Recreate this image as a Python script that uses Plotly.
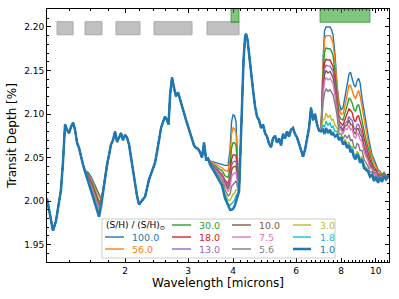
import plotly.graph_objects as go

# ---------------- data ----------------
ABUNDANCES = ["100.0", "56.0", "30.0", "18.0", "13.0", "10.0", "7.5", "5.6", "3.0", "1.8", "1.0"]
COLORS = ["#1f77b4", "#ff7f0e", "#2ca02c", "#d62728", "#9467bd", "#8c564b",
          "#e377c2", "#7f7f7f", "#bcbd22", "#17becf", "#1f77b4"]

# part of the spectrum shared by every model (microns, transit depth %)
WL_COMMON_1 = [1.212, 1.236, 1.260, 1.284, 1.309, 1.326, 1.343, 1.361, 1.378, 1.396,
               1.414, 1.433, 1.451, 1.470, 1.489, 1.508, 1.527]
DEPTH_COMMON_1 = [2.003, 1.985, 1.966, 1.977, 1.996, 2.013, 2.044, 2.088, 2.082, 2.078,
                  2.085, 2.090, 2.082, 2.067, 2.061, 2.050, 2.042]

# 1.55-1.72 micron window, where the models separate
WL_H = [1.547, 1.577, 1.608, 1.639, 1.671, 1.693, 1.715]
DEPTH_H = {
    "100.0": [2.035, 2.033, 2.028, 2.020, 2.013, 2.007, 2.003],
    "56.0": [2.035, 2.031, 2.026, 2.017, 2.010, 2.004, 2.001],
    "30.0": [2.035, 2.030, 2.023, 2.015, 2.007, 2.000, 2.000],
    "18.0": [2.034, 2.029, 2.021, 2.012, 2.004, 1.997, 1.999],
    "13.0": [2.034, 2.028, 2.020, 2.011, 2.002, 1.995, 1.998],
    "10.0": [2.034, 2.027, 2.019, 2.010, 2.001, 1.993, 1.998],
    "7.5": [2.034, 2.027, 2.018, 2.009, 1.999, 1.992, 1.997],
    "5.6": [2.034, 2.026, 2.016, 2.007, 1.997, 1.989, 1.996],
    "3.0": [2.034, 2.025, 2.014, 2.005, 1.995, 1.986, 1.995],
    "1.8": [2.034, 2.024, 2.013, 2.003, 1.993, 1.984, 1.994],
    "1.0": [2.034, 2.023, 2.012, 2.002, 1.991, 1.982, 1.994],
}

WL_COMMON_2 = [1.737, 1.759, 1.782, 1.805, 1.828, 1.852, 1.876, 1.900, 1.924, 1.949,
               1.974, 2.000, 2.026, 2.052, 2.079, 2.106, 2.133, 2.160, 2.188, 2.216,
               2.245, 2.274, 2.304, 2.333, 2.363, 2.394, 2.425, 2.457, 2.488, 2.520,
               2.553, 2.586, 2.619, 2.645, 2.671, 2.704, 2.739, 2.774, 2.810, 2.847,
               2.884, 2.921, 2.959, 2.997, 3.036, 3.075, 3.114, 3.155, 3.195, 3.237,
               3.278, 3.321, 3.364, 3.407]
DEPTH_COMMON_2 = [2.011, 2.027, 2.042, 2.053, 2.065, 2.070, 2.080, 2.068, 2.073, 2.078,
                  2.070, 2.076, 2.073, 2.065, 2.050, 2.034, 2.019, 2.006, 1.996, 1.999,
                  2.003, 2.005, 2.015, 2.025, 2.031, 2.038, 2.044, 2.057, 2.070, 2.084,
                  2.091, 2.097, 2.093, 2.088, 2.122, 2.142, 2.130, 2.120, 2.125, 2.116,
                  2.107, 2.101, 2.093, 2.085, 2.077, 2.070, 2.064, 2.061, 2.060, 2.056,
                  2.050, 2.067, 2.048, 2.049]

# 3.4-4.1 micron SO2 band
WL_4 = [3.451, 3.518, 3.587, 3.656, 3.727, 3.800, 3.874, 3.924, 3.962, 4.000, 4.039, 4.078, 4.117]
DEPTH_4 = {
    "100.0": [2.046, 2.045, 2.044, 2.043, 2.042, 2.041, 2.041, 2.059, 2.091, 2.099, 2.098, 2.091, 2.048],
    "56.0": [2.046, 2.044, 2.042, 2.040, 2.038, 2.035, 2.034, 2.049, 2.077, 2.084, 2.083, 2.078, 2.042],
    "30.0": [2.045, 2.042, 2.040, 2.037, 2.035, 2.029, 2.027, 2.038, 2.061, 2.067, 2.067, 2.064, 2.035],
    "18.0": [2.044, 2.041, 2.038, 2.035, 2.031, 2.024, 2.020, 2.029, 2.048, 2.053, 2.053, 2.052, 2.029],
    "13.0": [2.044, 2.041, 2.037, 2.034, 2.030, 2.022, 2.017, 2.025, 2.041, 2.045, 2.046, 2.045, 2.026],
    "10.0": [2.044, 2.040, 2.036, 2.033, 2.028, 2.020, 2.014, 2.021, 2.035, 2.039, 2.040, 2.040, 2.024],
    "7.5": [2.043, 2.039, 2.035, 2.031, 2.027, 2.017, 2.011, 2.016, 2.028, 2.031, 2.032, 2.033, 2.021],
    "5.6": [2.043, 2.038, 2.034, 2.029, 2.024, 2.013, 2.006, 2.008, 2.017, 2.019, 2.021, 2.023, 2.016],
    "3.0": [2.042, 2.037, 2.032, 2.027, 2.021, 2.009, 2.001, 2.001, 2.005, 2.008, 2.009, 2.013, 2.012],
    "1.8": [2.042, 2.037, 2.031, 2.026, 2.019, 2.006, 1.997, 1.995, 1.997, 1.999, 2.001, 2.006, 2.008],
    "1.0": [2.042, 2.036, 2.030, 2.025, 2.018, 2.003, 1.994, 1.990, 1.990, 1.991, 1.994, 1.999, 2.005],
}

WL_COMMON_3 = [4.157, 4.197, 4.238, 4.279, 4.320, 4.348, 4.390, 4.432, 4.489, 4.547,
               4.606, 4.666, 4.726, 4.787, 4.849, 4.912, 4.975, 5.039, 5.104, 5.170,
               5.237, 5.305, 5.373, 5.443, 5.513, 5.584, 5.656, 5.729, 5.803, 5.878,
               5.954, 6.031, 6.109, 6.188, 6.268, 6.349, 6.431, 6.514, 6.598, 6.683,
               6.769, 6.857, 6.946]
DEPTH_COMMON_3 = [2.011, 2.059, 2.116, 2.162, 2.188, 2.192, 2.185, 2.168, 2.148, 2.128,
                  2.109, 2.097, 2.093, 2.084, 2.088, 2.078, 2.074, 2.066, 2.062, 2.072,
                  2.075, 2.067, 2.072, 2.064, 2.077, 2.072, 2.080, 2.074, 2.082, 2.084,
                  2.077, 2.073, 2.066, 2.059, 2.051, 2.059, 2.070, 2.084, 2.107, 2.093,
                  2.100, 2.088, 2.081]

# 7-11 micron SO2 bands
WL_S = [7.036, 7.127, 7.196, 7.266, 7.359, 7.454, 7.526, 7.599, 7.697, 7.796,
        7.897, 7.999, 8.102, 8.207, 8.313, 8.420, 8.502, 8.584, 8.695, 8.779,
        8.864, 8.950, 9.036, 9.153, 9.271, 9.391, 9.512, 9.635, 9.760, 9.886,
        10.013, 10.143, 10.274, 10.407, 10.541, 10.677, 10.884]
DEPTH_S = {
    "100.0": [2.080, 2.162, 2.196, 2.200, 2.200, 2.200, 2.197, 2.191, 2.168, 2.133,
              2.113, 2.105, 2.107, 2.118, 2.133, 2.146, 2.148, 2.141, 2.133, 2.131,
              2.138, 2.141, 2.136, 2.118, 2.102, 2.088, 2.076, 2.064, 2.053, 2.048,
              2.041, 2.036, 2.034, 2.030, 2.033, 2.029, 2.031],
    "56.0": [2.080, 2.155, 2.186, 2.190, 2.190, 2.190, 2.187, 2.181, 2.160, 2.129,
             2.106, 2.100, 2.100, 2.110, 2.122, 2.133, 2.133, 2.128, 2.120, 2.118,
             2.124, 2.127, 2.121, 2.107, 2.092, 2.079, 2.069, 2.058, 2.050, 2.044,
             2.039, 2.034, 2.033, 2.029, 2.032, 2.028, 2.031],
    "30.0": [2.080, 2.145, 2.171, 2.176, 2.175, 2.175, 2.172, 2.167, 2.148, 2.121,
             2.098, 2.094, 2.093, 2.101, 2.109, 2.118, 2.117, 2.113, 2.105, 2.103,
             2.109, 2.111, 2.104, 2.094, 2.081, 2.070, 2.062, 2.051, 2.045, 2.039,
             2.036, 2.031, 2.031, 2.028, 2.032, 2.028, 2.031],
    "18.0": [2.080, 2.137, 2.159, 2.163, 2.162, 2.162, 2.159, 2.155, 2.138, 2.115,
             2.092, 2.089, 2.087, 2.094, 2.099, 2.106, 2.104, 2.102, 2.093, 2.091,
             2.097, 2.098, 2.092, 2.084, 2.072, 2.063, 2.056, 2.047, 2.042, 2.036,
             2.035, 2.029, 2.030, 2.026, 2.031, 2.027, 2.030],
    "13.0": [2.080, 2.132, 2.152, 2.156, 2.155, 2.155, 2.152, 2.149, 2.132, 2.112,
             2.088, 2.086, 2.082, 2.089, 2.091, 2.097, 2.094, 2.093, 2.084, 2.082,
             2.088, 2.088, 2.082, 2.077, 2.065, 2.057, 2.051, 2.043, 2.040, 2.033,
             2.033, 2.027, 2.030, 2.026, 2.031, 2.026, 2.030],
    "10.0": [2.080, 2.127, 2.145, 2.150, 2.147, 2.149, 2.145, 2.142, 2.127, 2.109,
             2.085, 2.084, 2.080, 2.086, 2.087, 2.093, 2.088, 2.088, 2.079, 2.077,
             2.083, 2.083, 2.077, 2.073, 2.061, 2.054, 2.049, 2.041, 2.038, 2.032,
             2.033, 2.026, 2.029, 2.025, 2.031, 2.026, 2.030],
    "7.5": [2.080, 2.122, 2.137, 2.142, 2.139, 2.141, 2.137, 2.135, 2.121, 2.105,
            2.083, 2.082, 2.077, 2.083, 2.082, 2.087, 2.082, 2.083, 2.074, 2.072,
            2.078, 2.077, 2.071, 2.068, 2.057, 2.051, 2.046, 2.038, 2.037, 2.030,
            2.032, 2.025, 2.029, 2.025, 2.030, 2.026, 2.030],
    "5.6": [2.080, 2.113, 2.124, 2.129, 2.126, 2.128, 2.124, 2.122, 2.111, 2.099,
            2.077, 2.077, 2.071, 2.076, 2.072, 2.076, 2.069, 2.071, 2.062, 2.060,
            2.066, 2.065, 2.058, 2.058, 2.048, 2.044, 2.040, 2.033, 2.034, 2.027,
            2.030, 2.023, 2.028, 2.024, 2.030, 2.025, 2.029],
    "3.0": [2.080, 2.093, 2.094, 2.101, 2.096, 2.099, 2.093, 2.094, 2.087, 2.084,
            2.072, 2.074, 2.067, 2.071, 2.065, 2.068, 2.060, 2.063, 2.054, 2.052,
            2.057, 2.055, 2.049, 2.051, 2.042, 2.039, 2.036, 2.030, 2.031, 2.025,
            2.029, 2.022, 2.027, 2.023, 2.029, 2.025, 2.029],
    "1.8": [2.080, 2.087, 2.085, 2.092, 2.087, 2.090, 2.084, 2.086, 2.080, 2.080,
            2.071, 2.073, 2.065, 2.069, 2.063, 2.065, 2.057, 2.061, 2.052, 2.049,
            2.055, 2.053, 2.046, 2.049, 2.040, 2.037, 2.035, 2.029, 2.031, 2.024,
            2.028, 2.021, 2.027, 2.023, 2.029, 2.025, 2.029],
    "1.0": [2.080, 2.082, 2.077, 2.084, 2.078, 2.082, 2.076, 2.078, 2.074, 2.076,
            2.070, 2.073, 2.065, 2.068, 2.061, 2.064, 2.056, 2.059, 2.050, 2.048,
            2.053, 2.051, 2.044, 2.048, 2.038, 2.036, 2.034, 2.028, 2.030, 2.023,
            2.028, 2.021, 2.027, 2.022, 2.029, 2.025, 2.029],
}

# instrument / band coverage boxes along the top (microns)
GRAY_BANDS = [(1.293, 1.433), (1.547, 1.725), (1.887, 2.202), (2.409, 3.074), (3.384, 4.156)]
GREEN_BANDS = [(3.948, 4.156), (6.99, 9.63)]

X_TICKS = [2, 3, 4, 6, 8, 10]
X_MINOR = [1.4, 1.6, 1.8, 2.2, 2.4, 2.6, 2.8, 3.2, 3.4, 3.6, 3.8, 4.2, 4.4, 4.6, 4.8,
           5.0, 5.2, 5.4, 5.6, 5.8, 6.2, 6.4, 6.6, 6.8, 7.0, 7.2, 7.4, 7.6, 7.8,
           8.2, 8.4, 8.6, 8.8, 9.0, 9.2, 9.4, 9.6, 9.8, 10.2, 10.4, 10.6, 10.8]
Y_TICKS = [1.95, 2.00, 2.05, 2.10, 2.15, 2.20]

X_RANGE_LOG = [0.0836, 1.0367]
Y_RANGE = [1.930, 2.2206]

# ---------------- figure ----------------
FONT = "DejaVu Sans"
fig = go.Figure()

for lab, col in zip(ABUNDANCES, COLORS):
    wl = WL_COMMON_1 + WL_H + WL_COMMON_2 + WL_4 + WL_COMMON_3 + WL_S
    dep = (DEPTH_COMMON_1 + DEPTH_H[lab] + DEPTH_COMMON_2 + DEPTH_4[lab]
           + DEPTH_COMMON_3 + DEPTH_S[lab])
    fig.add_trace(go.Scatter(
        x=wl, y=dep, mode="lines", name=lab, showlegend=False,
        line=dict(color=col, width=2.5 if lab == "1.0" else 1.4),
    ))

shapes = []
for a, b in GRAY_BANDS:
    shapes.append(dict(type="rect", xref="x", yref="y", x0=a, x1=b, y0=2.191, y1=2.206,
                       fillcolor="#c0c0c0", line=dict(color="#a9a9a9", width=1), layer="above"))
for a, b in GREEN_BANDS:
    shapes.append(dict(type="rect", xref="x", yref="y", x0=a, x1=b, y0=2.2053, y1=Y_RANGE[1],
                       fillcolor="rgba(44,160,44,0.6)", line=dict(color="rgba(44,140,44,0.7)", width=1),
                       layer="above"))

# ---- legend drawn by hand (4 columns, matplotlib style) ----
ML, MR, MT, MB = 47, 10, 9, 37
W, H = 399, 299
PW, PH = W - ML - MR, H - MT - MB


def px(xp):
    return (xp - ML) / PW


def py(yp):
    return (H - MB - yp) / PH


shapes.append(dict(type="rect", xref="paper", yref="paper",
                   x0=px(102), x1=px(335), y0=py(258), y1=py(219),
                   fillcolor="rgba(255,255,255,0.85)", line=dict(color="#cccccc", width=1),
                   layer="above"))

annotations = [dict(xref="paper", yref="paper", x=px(104), y=py(225), xanchor="left",
                    yanchor="middle", showarrow=False,
                    text="(S/H) / (S/H)<sub>⊙</sub>",
                    font=dict(family=FONT, size=9, color="black"))]

col_line_x = [(105, 124), (172, 191), (232, 251), (293, 311)]
col_text_x = [130, 197, 257, 318]
row_y = [225, 237, 249]
slot = 1
for lab, col in zip(ABUNDANCES, COLORS):
    c, r = divmod(slot, 3)
    slot += 1
    x0, x1 = col_line_x[c]
    yy = row_y[r]
    shapes.append(dict(type="line", xref="paper", yref="paper", x0=px(x0), x1=px(x1),
                       y0=py(yy), y1=py(yy),
                       line=dict(color=col, width=2.5 if lab == "1.0" else 1.4), layer="above"))
    annotations.append(dict(xref="paper", yref="paper", x=px(col_text_x[c]), y=py(yy),
                            xanchor="left", yanchor="middle", showarrow=False, text=lab,
                            font=dict(family=FONT, size=9.5, color=col)))

axis_common = dict(showline=True, linecolor="black", linewidth=1, mirror="allticks",
                   ticks="inside", ticklen=4, tickwidth=0.8, tickcolor="black",
                   showgrid=False, zeroline=False, automargin=False,
                   tickfont=dict(family=FONT, size=9, color="black"))

fig.update_layout(
    width=W, height=H, margin=dict(l=ML, r=MR, t=MT, b=MB, autoexpand=False),
    paper_bgcolor="white", plot_bgcolor="white",
    font=dict(family=FONT, color="black"),
    shapes=shapes, annotations=annotations, showlegend=False,
    xaxis=dict(type="log", range=X_RANGE_LOG, tickvals=X_TICKS,
               ticktext=[str(t) for t in X_TICKS],
               minor=dict(tickvals=X_MINOR, ticks="inside", ticklen=2, tickwidth=0.6,
                          tickcolor="black", showgrid=False),
               title=dict(text="Wavelength [microns]", font=dict(family=FONT, size=12),
                          standoff=2),
               **axis_common),
    yaxis=dict(range=Y_RANGE, tickvals=Y_TICKS, ticktext=[f"{t:.2f}" for t in Y_TICKS],
               minor=dict(dtick=0.01, tick0=1.93, ticks="inside", ticklen=2, tickwidth=0.6,
                          tickcolor="black", showgrid=False),
               title=dict(text="Transit Depth [%]", font=dict(family=FONT, size=12),
                          standoff=4),
               **axis_common),
)

fig.write_html("out.html", config={"displayModeBar": False},
               post_script="document.body.style.margin='0';")
